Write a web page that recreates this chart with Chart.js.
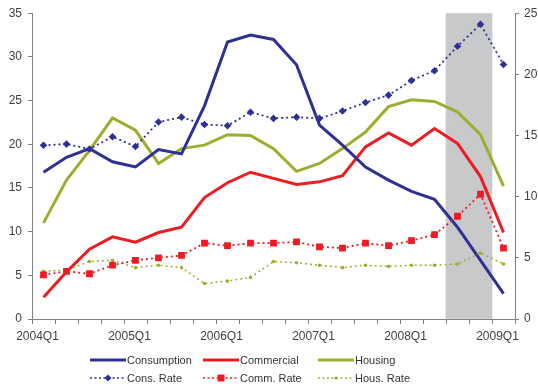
<!DOCTYPE html>
<html>
<head>
<meta charset="utf-8">
<script src="https://cdn.jsdelivr.net/npm/chart.js@4/dist/chart.umd.min.js"></script>
<style>
  body { margin: 0; background: #fff; }
  #wrap { position: relative; width: 538px; height: 387px; }
  #legend { position: absolute; left: 0; top: 352px; width: 538px; font: 11px "Liberation Sans", Arial, sans-serif; color: #333; }
  .item { position: absolute; display: flex; align-items: center; height: 16px; white-space: nowrap; }
  .item svg { display: block; margin-right: 1px; }
</style>
</head>
<body>
<div id="wrap">
  <canvas id="chart"></canvas>
  <div id="legend"></div>
</div>
<script>
// quarters 2004Q1 .. 2009Q1
const quarters = [
  '2004Q1','2004Q2','2004Q3','2004Q4',
  '2005Q1','2005Q2','2005Q3','2005Q4',
  '2006Q1','2006Q2','2006Q3','2006Q4',
  '2007Q1','2007Q2','2007Q3','2007Q4',
  '2008Q1','2008Q2','2008Q3','2008Q4',
  '2009Q1'
];

// left axis
const consumption = [16.8, 18.5, 19.5, 18.0, 17.4, 19.4, 18.9, 24.4, 31.7, 32.5, 32.0, 29.1, 22.2, 19.9, 17.4, 15.9, 14.6, 13.7, 10.5, 6.7, 2.9];
const commercial  = [2.5, 5.4, 8.0, 9.4, 8.8, 9.9, 10.5, 13.9, 15.6, 16.8, 16.1, 15.4, 15.7, 16.4, 19.7, 21.3, 19.9, 21.8, 20.1, 16.3, 9.9];
const housing     = [11.0, 15.9, 19.3, 23.0, 21.6, 17.8, 19.5, 19.9, 21.1, 21.0, 19.5, 16.9, 17.8, 19.5, 21.4, 24.3, 25.1, 24.9, 23.7, 21.1, 15.2];

// right axis
const consRate = [14.2, 14.3, 13.9, 14.9, 14.1, 16.1, 16.5, 15.9, 15.8, 16.9, 16.4, 16.5, 16.4, 17.0, 17.7, 18.3, 19.5, 20.3, 22.3, 24.1, 20.8];
const commRate = [3.6, 3.9, 3.7, 4.4, 4.8, 5.0, 5.2, 6.2, 6.0, 6.2, 6.2, 6.3, 5.9, 5.8, 6.2, 6.0, 6.4, 6.9, 8.4, 10.2, 5.8];
const housRate = [3.9, 4.0, 4.7, 4.8, 4.2, 4.4, 4.2, 2.9, 3.1, 3.4, 4.7, 4.6, 4.4, 4.2, 4.4, 4.3, 4.4, 4.4, 4.5, 5.4, 4.5];

// shaded period (2008Q3-2008Q4)
const shaded = [null, null, null, null, null, null, null, null, null, null, null, null, null, null, null, null, null, null, 35, 35, null];

const BLUE = '#2e3192';
const RED = '#ed1c24';
const OLIVE = '#9dae2e';
const AXIS = '#808080';
const FONT = { family: '"Liberation Sans", Arial, sans-serif', size: 12 };

const datasets = [
  { type: 'bar', data: shaded, backgroundColor: '#c8c9cb', barPercentage: 1, categoryPercentage: 1, yAxisID: 'y', order: 10 },
  { label: 'Consumption', data: consumption, borderColor: BLUE, borderWidth: 3, pointRadius: 0, yAxisID: 'y', order: 1 },
  { label: 'Commercial', data: commercial, borderColor: RED, borderWidth: 3, pointRadius: 0, yAxisID: 'y', order: 1 },
  { label: 'Housing', data: housing, borderColor: OLIVE, borderWidth: 3, pointRadius: 0, yAxisID: 'y', order: 1 },
  { label: 'Cons. Rate', data: consRate, borderColor: BLUE, backgroundColor: BLUE, borderWidth: 1.8, borderDash: [2, 3],
    pointStyle: 'rectRot', pointRadius: 3.8, pointBorderWidth: 0, yAxisID: 'y1', order: 0 },
  { label: 'Comm. Rate', data: commRate, borderColor: RED, backgroundColor: RED, borderWidth: 1.8, borderDash: [2, 3],
    pointStyle: 'rect', pointRadius: 4.8, pointBorderWidth: 0, yAxisID: 'y1', order: 0 },
  { label: 'Hous. Rate', data: housRate, borderColor: OLIVE, backgroundColor: OLIVE, borderWidth: 1.5, borderDash: [2, 3],
    pointStyle: 'circle', pointRadius: 1.8, pointBorderWidth: 0, yAxisID: 'y1', order: 0 }
];

new Chart(document.getElementById('chart'), {
  type: 'line',
  data: { labels: quarters, datasets },
  options: {
    responsive: true,
    maintainAspectRatio: false,
    animation: false,
    layout: { padding: { top: 10, bottom: 42, left: 0, right: 0 } },
    elements: { line: { tension: 0, fill: false } },
    plugins: { legend: { display: false }, tooltip: { enabled: false } },
    scales: {
      x: {
        offset: true,
        grid: { offset: true, drawOnChartArea: false, drawTicks: true, tickLength: 5, color: AXIS },
        border: { display: true, color: AXIS, width: 1 },
        ticks: {
          autoSkip: false, maxRotation: 0, padding: 5, labelOffset: -6, color: '#404040', font: FONT,
          callback: function (v, i) { const l = quarters[i]; return l.endsWith('Q1') ? l : ''; }
        },
        afterFit: s => { s.height = 26; }
      },
      y: {
        position: 'left', min: 0, max: 35,
        grid: { drawOnChartArea: false, drawTicks: true, tickLength: 4, color: AXIS },
        border: { display: true, color: AXIS, width: 1 },
        ticks: { stepSize: 5, padding: 6, color: '#404040', font: FONT },
        afterFit: s => { s.width = 32; }
      },
      y1: {
        position: 'right', min: 0, max: 25,
        grid: { drawOnChartArea: false, drawTicks: true, tickLength: 4, color: AXIS },
        border: { display: true, color: AXIS, width: 1 },
        ticks: { stepSize: 5, padding: 5, color: '#404040', font: FONT },
        afterFit: s => { s.width = 23; }
      }
    }
  }
});

// legend (html, two rows x three columns)
const legendItems = [
  { text: 'Consumption', color: BLUE, solid: true, x: 90, row: 0 },
  { text: 'Commercial', color: RED, solid: true, x: 203, row: 0 },
  { text: 'Housing', color: OLIVE, solid: true, x: 318, row: 0 },
  { text: 'Cons. Rate', color: BLUE, marker: 'diamond', x: 90, row: 1 },
  { text: 'Comm. Rate', color: RED, marker: 'square', x: 203, row: 1 },
  { text: 'Hous. Rate', color: OLIVE, marker: 'dot', x: 318, row: 1 }
];

const legend = document.getElementById('legend');
legendItems.forEach(it => {
  const div = document.createElement('div');
  div.className = 'item';
  div.style.left = it.x + 'px';
  div.style.top = (it.row * 18) + 'px';
  let svg = '<svg width="36" height="12" viewBox="0 0 36 12">';
  if (it.solid) {
    svg += `<line x1="0" y1="6" x2="36" y2="6" stroke="${it.color}" stroke-width="3"/>`;
  } else {
    svg += `<line x1="0" y1="6" x2="36" y2="6" stroke="${it.color}" stroke-width="1.5" stroke-dasharray="2,2.5"/>`;
    if (it.marker === 'diamond') svg += `<polygon points="18,2.5 21.5,6 18,9.5 14.5,6" fill="${it.color}"/>`;
    if (it.marker === 'square') svg += `<rect x="14.5" y="2.5" width="7" height="7" fill="${it.color}"/>`;
    if (it.marker === 'dot') svg += `<circle cx="18" cy="6" r="1.6" fill="${it.color}"/>`;
  }
  svg += '</svg>';
  div.innerHTML = svg + '<span>' + it.text + '</span>';
  legend.appendChild(div);
});
</script>
</body>
</html>
